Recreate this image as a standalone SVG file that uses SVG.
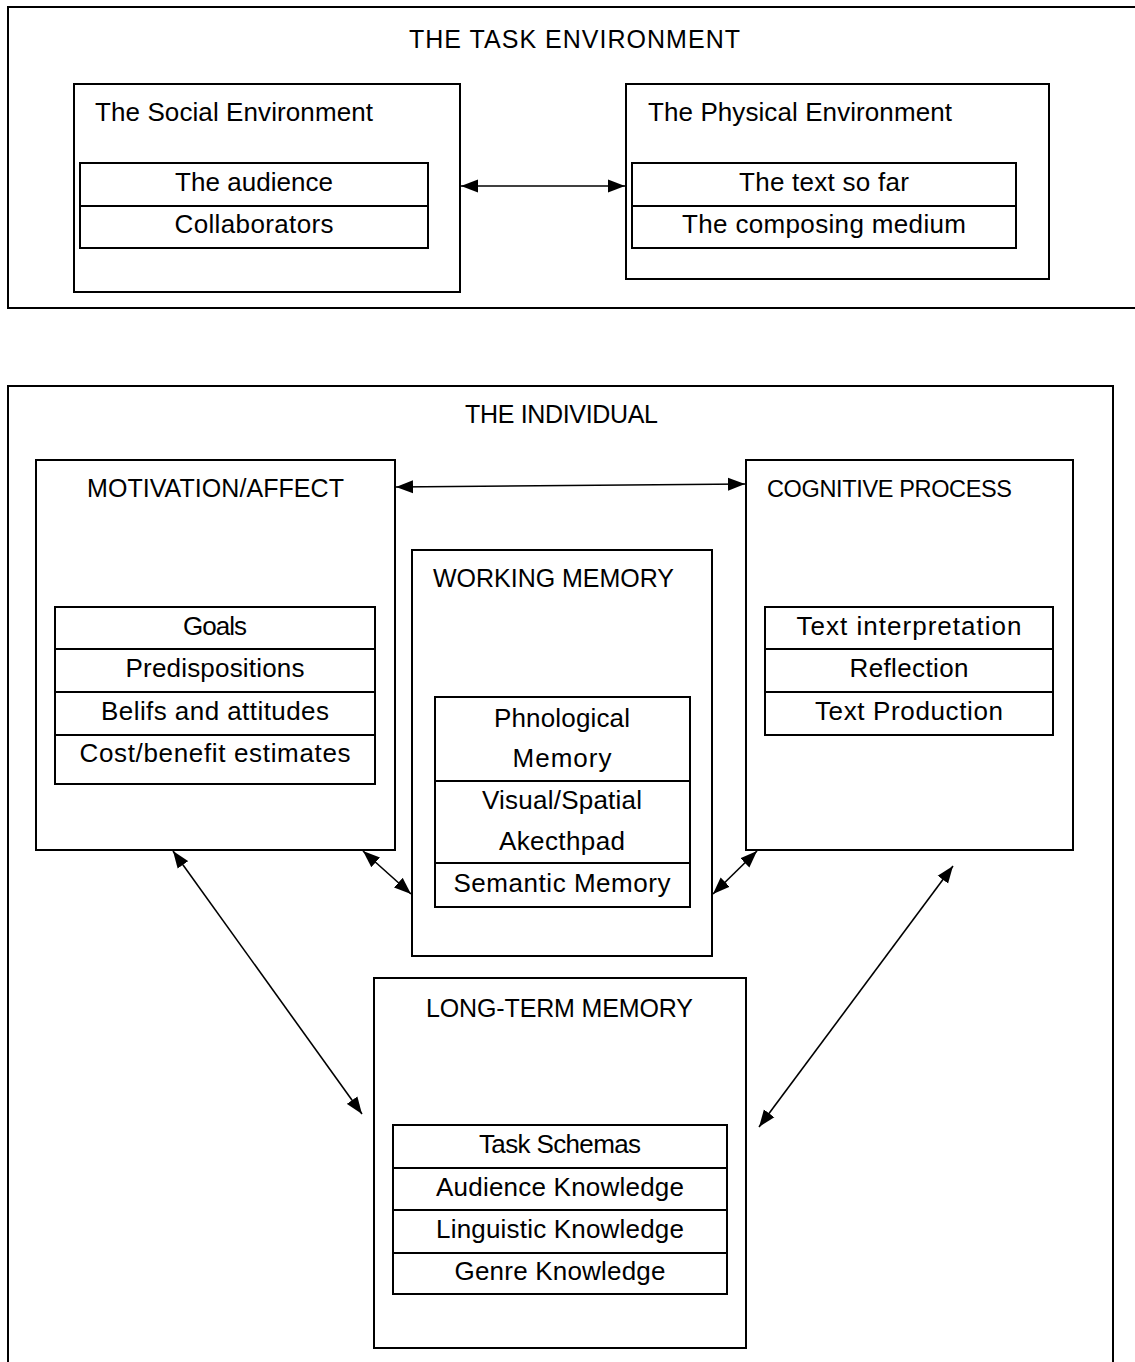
<svg xmlns="http://www.w3.org/2000/svg" width="1135" height="1362" viewBox="0 0 1135 1362">
<defs>
<style>
.box{fill:none;stroke:#000;stroke-width:2}
.cell{fill:#fff;stroke:#000;stroke-width:2}
.t{font-family:"Liberation Sans",Arial,sans-serif;font-size:26px;fill:#000}
.c{text-anchor:middle}
.cap{font-size:25px}
.con{fill:none;stroke:#000;stroke-width:1.6;marker-start:url(#ah);marker-end:url(#ah)}
</style>
<marker id="ah" markerUnits="userSpaceOnUse" markerWidth="18" markerHeight="14" refX="17" refY="7" orient="auto-start-reverse" viewBox="0 0 18 14">
<path d="M0,0.5 L17,7 L0,13.5 Z" fill="#000"/>
</marker>
</defs>
<rect width="1135" height="1362" fill="#fff"/>

<g id="task-environment">
<rect class="box" x="8" y="7" width="1140" height="301"/>
<text class="t cap" x="409" y="48" textLength="331">THE TASK ENVIRONMENT</text>
</g>

<g id="social-environment">
<rect class="box" x="74" y="84" width="386" height="208"/>
<text class="t" x="95" y="121" textLength="278">The Social Environment</text>
<rect class="cell" x="80" y="163" width="348" height="43"/>
<rect class="cell" x="80" y="206" width="348" height="42"/>
<text class="t c" x="254" y="191" textLength="158">The audience</text>
<text class="t c" x="254" y="233" textLength="159">Collaborators</text>
</g>

<g id="physical-environment">
<rect class="box" x="626" y="84" width="423" height="195"/>
<text class="t" x="648" y="121" textLength="304">The Physical Environment</text>
<rect class="cell" x="632" y="163" width="384" height="43"/>
<rect class="cell" x="632" y="206" width="384" height="42"/>
<text class="t c" x="824" y="191" textLength="170">The text so far</text>
<text class="t c" x="824" y="233" textLength="284">The composing medium</text>
</g>

<g id="individual">
<rect class="box" x="8" y="386" width="1105" height="1000"/>
<text class="t cap" x="465" y="423" textLength="193">THE INDIVIDUAL</text>
</g>

<g id="motivation-affect">
<rect class="box" x="36" y="460" width="359" height="390"/>
<text class="t cap" x="87" y="497" textLength="257">MOTIVATION/AFFECT</text>
<rect class="cell" x="55" y="607" width="320" height="42"/>
<rect class="cell" x="55" y="649" width="320" height="43"/>
<rect class="cell" x="55" y="692" width="320" height="43"/>
<rect class="cell" x="55" y="735" width="320" height="49"/>
<text class="t c" x="215" y="635" textLength="64">Goals</text>
<text class="t c" x="215" y="677" textLength="179">Predispositions</text>
<text class="t c" x="215" y="720" textLength="228">Belifs and attitudes</text>
<text class="t c" x="215" y="762" textLength="271">Cost/benefit estimates</text>
</g>

<g id="cognitive-process">
<rect class="box" x="746" y="460" width="327" height="390"/>
<text class="t cap" x="767" y="497" textLength="245" style="font-size:23.5px">COGNITIVE PROCESS</text>
<rect class="cell" x="765" y="607" width="288" height="42"/>
<rect class="cell" x="765" y="649" width="288" height="43"/>
<rect class="cell" x="765" y="692" width="288" height="43"/>
<text class="t c" x="909" y="635" textLength="225">Text interpretation</text>
<text class="t c" x="909" y="677" textLength="119">Reflection</text>
<text class="t c" x="909" y="720" textLength="188">Text Production</text>
</g>

<g id="working-memory">
<rect class="box" x="412" y="550" width="300" height="406"/>
<text class="t cap" x="433" y="587" textLength="241">WORKING MEMORY</text>
<rect class="cell" x="435" y="697" width="255" height="84"/>
<rect class="cell" x="435" y="781" width="255" height="82"/>
<rect class="cell" x="435" y="863" width="255" height="44"/>
<text class="t c" x="562" y="727" textLength="136">Phnological</text>
<text class="t c" x="562" y="767" textLength="99">Memory</text>
<text class="t c" x="562" y="809" textLength="160">Visual/Spatial</text>
<text class="t c" x="562" y="850" textLength="126">Akecthpad</text>
<text class="t c" x="562" y="892" textLength="217">Semantic Memory</text>
</g>

<g id="long-term-memory">
<rect class="box" x="374" y="978" width="372" height="370"/>
<text class="t cap" x="426" y="1017" textLength="267">LONG-TERM MEMORY</text>
<rect class="cell" x="393" y="1125" width="334" height="43"/>
<rect class="cell" x="393" y="1168" width="334" height="42"/>
<rect class="cell" x="393" y="1210" width="334" height="43"/>
<rect class="cell" x="393" y="1253" width="334" height="41"/>
<text class="t c" x="560" y="1153" textLength="162">Task Schemas</text>
<text class="t c" x="560" y="1196" textLength="248">Audience Knowledge</text>
<text class="t c" x="560" y="1238" textLength="248">Linguistic Knowledge</text>
<text class="t c" x="560" y="1280" textLength="211">Genre Knowledge</text>
</g>

<g id="connectors">
<line class="con" x1="461" y1="186" x2="625" y2="186"/>
<line class="con" x1="396" y1="487" x2="745" y2="484"/>
<line class="con" x1="173" y1="851" x2="362" y2="1114"/>
<line class="con" x1="363" y1="851" x2="411" y2="894"/>
<line class="con" x1="713" y1="894" x2="757" y2="851"/>
<line class="con" x1="759" y1="1127" x2="953" y2="866"/>
</g>
</svg>
